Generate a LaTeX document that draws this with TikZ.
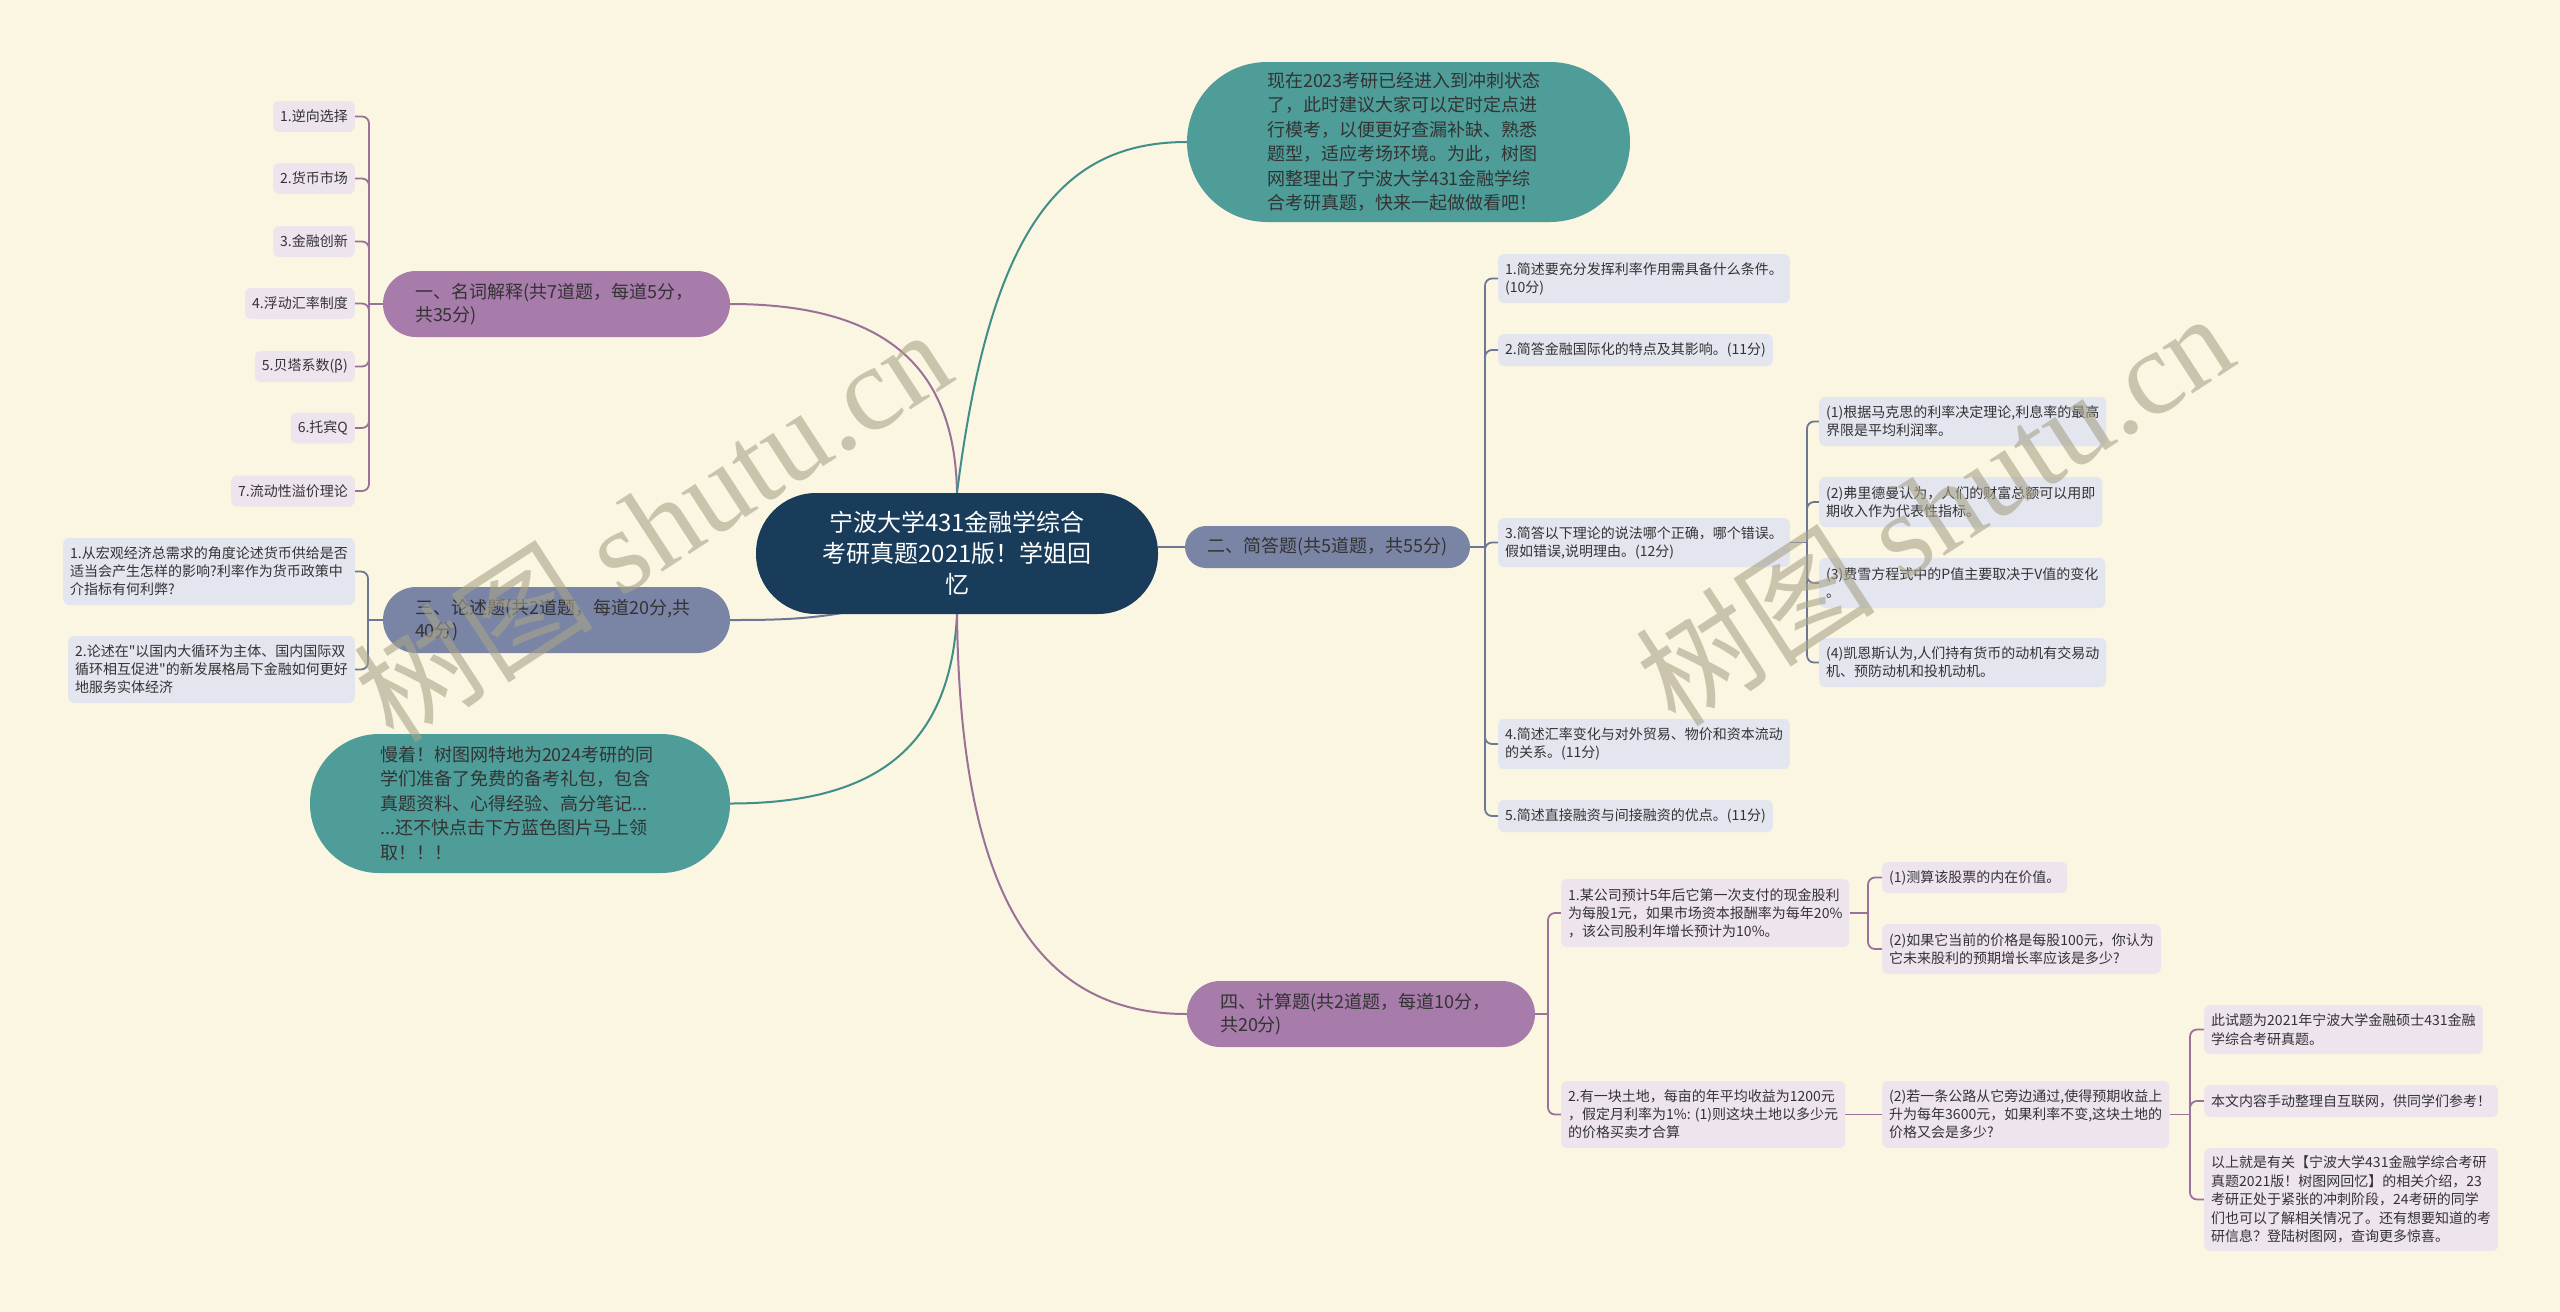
\documentclass[tikz,border=0pt]{standalone}
\usepackage{fontspec}
\newfontfamily\cjkf{Noto Sans CJK SC}
\newfontfamily\wmserif{Liberation Serif}
\definecolor{bgc}{HTML}{FBF6E1}
\definecolor{cenc}{HTML}{183C5A}
\definecolor{tealc}{HTML}{4E9D99}
\definecolor{tealline}{HTML}{3F8E8A}
\definecolor{purc}{HTML}{A77BAA}
\definecolor{purline}{HTML}{9A7199}
\definecolor{slatec}{HTML}{7A85A6}
\definecolor{slateline}{HTML}{6C7794}
\definecolor{lavc}{HTML}{EEE4EE}
\definecolor{bluec}{HTML}{E3E6EF}
\definecolor{txtc}{HTML}{333333}
\definecolor{wmc}{HTML}{A8A388}
\newcommand\fsleaf{\fontsize{14pt}{18pt}\selectfont}
\newcommand\fsleafz{\fontsize{14pt}{18.5pt}\selectfont}
\newcommand\fsmain{\fontsize{18pt}{23pt}\selectfont}
\newcommand\fsteal{\fontsize{18pt}{24.5pt}\selectfont}
\newcommand\fscen{\fontsize{24pt}{31pt}\selectfont}
\newcommand\fswm{\fontsize{120pt}{120pt}\selectfont}
\pgfdeclarelayer{bgl}
\pgfdeclarelayer{lines}
\pgfdeclarelayer{fgl}
\pgfsetlayers{bgl,lines,main,fgl}
\tikzset{
  leaf/.style={rounded corners=6pt, inner xsep=7pt, inner ysep=0pt, align=left, font=\cjkf\fsleaf, text=txtc},
  leafL/.style={leaf, fill=lavc},
  leafB/.style={leaf, fill=bluec},
  leafZ/.style={leafL, font=\cjkf\fsleafz},
  mainnode/.style={inner ysep=0pt, align=left, text=txtc, font=\cjkf\fsmain},
  tealnode/.style={fill=tealc, inner ysep=0pt, align=left, text=txtc, font=\cjkf\fsteal},
  cen/.style={fill=cenc, text=white, font=\cjkf\fscen, align=center, inner sep=0pt,
    minimum width=402pt, minimum height=121pt, rounded corners=60pt},
  lnP/.style={draw=purline, line width=1.8pt},
  lnS/.style={draw=slateline, line width=1.8pt},
  lnT/.style={draw=tealline, line width=2pt},
  brk/.style={rounded corners=7pt},
  wm/.style={text=wmc, text opacity=0.6, font=\wmserif\fswm, inner sep=0pt, rotate=33}
}
\begin{document}
\begin{tikzpicture}[x=1pt,y=-1pt]
\begin{pgfonlayer}{bgl}
\fill[bgc] (0,0) rectangle (2560,1312);
\end{pgfonlayer}
\useasboundingbox (0,0) rectangle (2560,1312);

% central
\node[cen] (c) at (957,553.5) {宁波大学431金融学综合\\考研真题2021版！学姐回\\忆};

% teal nodes
\node[tealnode, text width=283pt, inner xsep=80pt, minimum height=160pt, rounded corners=80pt] (t1) at (1408.5,142)
 {现在2023考研已经进入到冲刺状态\\了，此时建议大家可以定时定点进\\行模考，以便更好查漏补缺、熟悉\\题型，适应考场环境。为此，树图\\网整理出了宁波大学431金融学综\\合考研真题，快来一起做做看吧！};
\node[tealnode, text width=280pt, inner xsep=70pt, minimum height=139pt, rounded corners=69pt] (t2) at (520,803.5)
 {慢着！树图网特地为2024考研的同\\学们准备了免费的备考礼包，包含\\真题资料、心得经验、高分笔记...\\...还不快点击下方蓝色图片马上领\\取！！！};

% main branches
\node[mainnode, fill=purc, text width=283pt, inner xsep=32pt, minimum height=66pt, rounded corners=33pt] (n1) at (556.5,304)
 {一、名词解释(共7道题，每道5分，\\共35分)};
\node[mainnode, fill=slatec, text width=283pt, inner xsep=32pt, minimum height=66pt, rounded corners=33pt] (n3) at (556.5,620)
 {三、论述题(共2道题，每道20分,共\\40分)};
\node[mainnode, fill=slatec, align=center, inner xsep=0pt, minimum width=285pt, minimum height=42pt, rounded corners=21pt] (n2) at (1327.5,547)
 {二、简答题(共5道题，共55分)};
\node[mainnode, fill=purc, text width=282pt, inner xsep=33pt, minimum height=66pt, rounded corners=33pt] (n4) at (1361,1014)
 {四、计算题(共2道题，每道10分，\\共20分)};

% group 1 leaves
\node[leafL, anchor=east, minimum height=31pt] (l1) at (355,116.5) {1.逆向选择};
\node[leafL, anchor=east, minimum height=31pt] (l2) at (355,178.5) {2.货币市场};
\node[leafL, anchor=east, minimum height=31pt] (l3) at (355,241.5) {3.金融创新};
\node[leafL, anchor=east, minimum height=31pt] (l4) at (355,303.5) {4.浮动汇率制度};
\node[leafL, anchor=east, minimum height=31pt] (l5) at (355,366.5) {5.贝塔系数(β)};
\node[leafL, anchor=east, minimum height=31pt] (l6) at (355,428) {6.托宾Q};
\node[leafL, anchor=east, minimum height=31pt] (l7) at (355,491) {7.流动性溢价理论};

% group 3 leaves
\node[leafB, anchor=east, minimum height=67pt] (s1) at (355,571.5)
 {1.从宏观经济总需求的角度论述货币供给是否\\适当会产生怎样的影响?利率作为货币政策中\\介指标有何利弊?};
\node[leafB, anchor=east, minimum height=67pt] (s2) at (355,669.5)
 {2.论述在"以国内大循环为主体、国内国际双\\循环相互促进"的新发展格局下金融如何更好\\地服务实体经济};

% group 2 leaves
\node[leafB, anchor=west, minimum height=49pt] (r1) at (1498,278.5) {1.简述要充分发挥利率作用需具备什么条件。\\(10分)};
\node[leafB, anchor=west, minimum height=32pt] (r2) at (1498,350) {2.简答金融国际化的特点及其影响。(11分)};
\node[leafB, anchor=west, minimum height=49pt] (r3) at (1498,542.5) {3.简答以下理论的说法哪个正确，哪个错误。\\假如错误,说明理由。(12分)};
\node[leafB, anchor=west, minimum height=50pt] (r4) at (1498,744) {4.简述汇率变化与对外贸易、物价和资本流动\\的关系。(11分)};
\node[leafB, anchor=west, minimum height=32pt] (r5) at (1498,816) {5.简述直接融资与间接融资的优点。(11分)};

% r3 sub leaves
\node[leafB, anchor=west, minimum height=49pt] (q1) at (1819,421.5) {(1)根据马克思的利率决定理论,利息率的最高\\界限是平均利润率。};
\node[leafB, anchor=west, minimum height=50pt] (q2) at (1819,502) {(2)弗里德曼认为，人们的财富总额可以用即\\期收入作为代表性指标。};
\node[leafB, anchor=west, minimum height=50pt] (q3) at (1819,583) {(3)费雪方程式中的P值主要取决于V值的变化\\。};
\node[leafB, anchor=west, minimum height=49pt] (q4) at (1819,662.5) {(4)凯恩斯认为,人们持有货币的动机有交易动\\机、预防动机和投机动机。};

% group 4 leaves
\node[leafL, anchor=west, minimum height=68pt] (p1) at (1561,913)
 {1.某公司预计5年后它第一次支付的现金股利\\为每股1元，如果市场资本报酬率为每年20\%\\，该公司股利年增长预计为10\%。};
\node[leafL, anchor=west, minimum height=67pt] (p2) at (1561,1114.5)
 {2.有一块土地，每亩的年平均收益为1200元\\，假定月利率为1\%: (1)则这块土地以多少元\\的价格买卖才合算};
\node[leafL, anchor=west, minimum height=31pt] (p1a) at (1882,877.5) {(1)测算该股票的内在价值。};
\node[leafL, anchor=west, minimum height=50pt] (p1b) at (1882,949)
 {(2)如果它当前的价格是每股100元，你认为\\它未来股利的预期增长率应该是多少?};
\node[leafL, anchor=west, minimum height=67pt] (p2a) at (1882,1114.5)
 {(2)若一条公路从它旁边通过,使得预期收益上\\升为每年3600元，如果利率不变,这块土地的\\价格又会是多少?};
\node[leafZ, anchor=west, minimum height=49pt] (z1) at (2204,1029.5)
 {此试题为2021年宁波大学金融硕士431金融\\学综合考研真题。};
\node[leafZ, anchor=west, minimum height=32pt] (z2) at (2204,1101) {本文内容手动整理自互联网，供同学们参考！};
\node[leafZ, anchor=west, minimum height=103pt] (z3) at (2204,1199.5)
 {以上就是有关【宁波大学431金融学综合考研\\真题2021版！树图网回忆】的相关介绍，23\\考研正处于紧张的冲刺阶段，24考研的同学\\们也可以了解相关情况了。还有想要知道的考\\研信息？登陆树图网，查询更多惊喜。};

% trunk points
\coordinate (k1) at (369,304);
\coordinate (k3) at (368,620);
\coordinate (k2) at (1485,547);
\coordinate (k5) at (1807,542.5);
\coordinate (k4) at (1548,1014);
\coordinate (k6) at (1868,913);
\coordinate (k7) at (2190,1114.5);

\begin{pgfonlayer}{lines}
% central branches
\draw[lnP, line width=2pt] (c.north) .. controls (955,380) and (900,304) .. (n1.east);
\draw[lnT] (c.north) .. controls (990,230) and (1060,142) .. (t1.west);
\draw[lnS, line width=2pt] (c.east |- n2.west) -- (n2.west);
\draw[lnS, line width=2pt] (c.center) .. controls (900,620) and (800,620) .. (n3.east);
\draw[lnT] (c.south) .. controls (950,760) and (860,803.5) .. (t2.east);
\draw[lnP, line width=2pt] (c.south) .. controls (960,900) and (1040,1014) .. (n4.west);
% group 1
\draw[lnP] (n1.west) -- (k1);
\foreach \n in {l1,l2,l3,l4,l5,l6,l7} {\draw[lnP, brk] (k1) |- (\n.east);}
% group 3
\draw[lnS] (n3.west) -- (k3);
\foreach \n in {s1,s2} {\draw[lnS, brk] (k3) |- (\n.east);}
% group 2
\draw[lnS] (n2.east) -- (k2);
\foreach \n in {r1,r2,r3,r4,r5} {\draw[lnS, brk] (k2) |- (\n.west);}
\draw[lnS] (r3.east) -- (k5);
\foreach \n in {q1,q2,q3,q4} {\draw[lnS, brk] (k5) |- (\n.west);}
% group 4
\draw[lnP] (n4.east) -- (k4);
\foreach \n in {p1,p2} {\draw[lnP, brk] (k4) |- (\n.west);}
\draw[lnP] (p1.east) -- (k6);
\foreach \n in {p1a,p1b} {\draw[lnP, brk] (k6) |- (\n.west);}
\draw[lnP] (p2.east) -- (p2a.west);
\draw[lnP] (p2a.east) -- (k7);
\foreach \n in {z1,z2,z3} {\draw[lnP, brk] (k7) |- (\n.west);}
\end{pgfonlayer}

\begin{pgfonlayer}{fgl}
\node[wm] (w1) at (652,524) {{\cjkf 树图} shutu.cn};
\node[wm] (w2) at (1934,508) {{\cjkf 树图} shutu.cn};
\end{pgfonlayer}
\end{tikzpicture}
\end{document}
